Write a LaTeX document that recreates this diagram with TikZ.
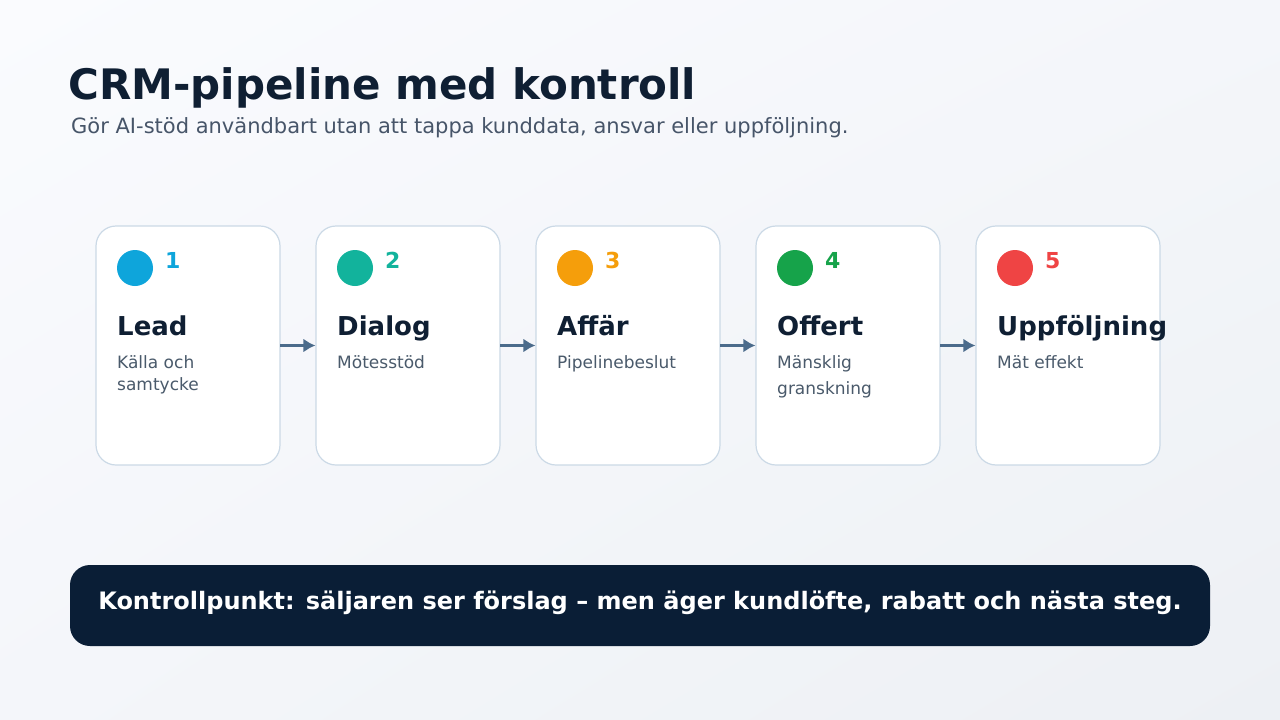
\documentclass[tikz,border=0pt]{standalone}
\usepackage{fontspec}
\setmainfont{DejaVu Sans}
\usetikzlibrary{positioning,arrows.meta,shadings}
\definecolor{ink}{HTML}{0F1F33}
\definecolor{muted}{HTML}{475569}
\definecolor{bodytxt}{HTML}{4A5A6B}
\definecolor{cardline}{HTML}{CBD9E6}
\definecolor{arrowc}{HTML}{4B6B8B}
\definecolor{barfill}{HTML}{0A1E36}
\definecolor{bgA}{HTML}{FAFBFE}
\definecolor{bgB}{HTML}{F4F6FA}
\definecolor{bgC}{HTML}{EDF0F4}
\definecolor{cA}{HTML}{0EA5DB}
\definecolor{cB}{HTML}{12B39C}
\definecolor{cC}{HTML}{F59E0B}
\definecolor{cD}{HTML}{16A34A}
\definecolor{cE}{HTML}{EF4444}
\tikzset{
  card/.style={draw=cardline, line width=1.2pt, fill=white, rounded corners=20pt,
    minimum width=184pt, minimum height=239pt},
  dot/.style={circle, inner sep=0pt, minimum size=36pt},
  num/.style={anchor=base west, inner sep=0pt, font=\fontsize{22}{26}\selectfont\bfseries},
  head/.style={anchor=base west, inner sep=0pt, text=ink, font=\fontsize{26}{30}\selectfont\bfseries},
  body/.style={anchor=base west, inner sep=0pt, text=bodytxt, align=left,
    font=\fontsize{17}{22}\selectfont},
  arr/.style={-{Latex[length=12pt,width=14pt]}, draw=arrowc, line width=3pt, shorten <=-0.5pt}
}
\begin{document}
\begin{tikzpicture}[x=1pt, y=-1pt]
% Bakgrund
\shade[upper left=bgA, upper right=bgB, lower left=bgB, lower right=bgC] (0,0) rectangle (1280,720);
\useasboundingbox (0,0) rectangle (1280,720);
% Rubrik
\node[anchor=base west, inner sep=0pt, text=ink, font=\fontsize{42}{48}\selectfont\bfseries]
  (title) at (68,99) {CRM-pipeline med kontroll};
\node[anchor=base west, inner sep=0pt, text=muted, font=\fontsize{21}{26}\selectfont]
  (sub) at (71,133) {Gör AI-stöd användbart utan att tappa kunddata, ansvar eller uppföljning.};
% Kort
\node[card] (c1) at (188,345.5) {};
\node[card] (c2) at (408,345.5) {};
\node[card] (c3) at (628,345.5) {};
\node[card] (c4) at (848,345.5) {};
\node[card] (c5) at (1068,345.5) {};
% Steg 1
\node[dot, fill=cA] (d1) at (135,268) {};
\node[num, text=cA] (n1) at (165,268) {1};
\node[head] (h1) at (117,335) {Lead};
\node[body] (b1) at (117,390) {Källa och\\samtycke};
% Steg 2
\node[dot, fill=cB] (d2) at (355,268) {};
\node[num, text=cB] (n2) at (385,268) {2};
\node[head] (h2) at (337,335) {Dialog};
\node[body] (b2) at (337,368) {Mötesstöd};
% Steg 3
\node[dot, fill=cC] (d3) at (575,268) {};
\node[num, text=cC] (n3) at (605,268) {3};
\node[head] (h3) at (557,335) {Affär};
\node[body] (b3) at (557,368) {Pipelinebeslut};
% Steg 4
\node[dot, fill=cD] (d4) at (795,268) {};
\node[num, text=cD] (n4) at (825,268) {4};
\node[head] (h4) at (777,335) {Offert};
\node[body] (b4) at (777,394) {Mänsklig\\[4pt]granskning};
% Steg 5
\node[dot, fill=cE] (d5) at (1015,268) {};
\node[num, text=cE] (n5) at (1045,268) {5};
\node[head] (h5) at (997,335) {Uppföljning};
\node[body] (b5) at (997,368) {Mät effekt};
% Pilar
\draw[arr] (c1.east) -- (c2.west);
\draw[arr] (c2.east) -- (c3.west);
\draw[arr] (c3.east) -- (c4.west);
\draw[arr] (c4.east) -- (c5.west);
% Kontrollpunkt
\node[fill=barfill, rounded corners=20pt, minimum width=1140pt, minimum height=81pt]
  (bar) at (640,605.5) {};
\node[anchor=base, inner sep=0pt, text=white, font=\fontsize{24}{28}\selectfont\bfseries]
  (note) at (bar.center |- 0,609)
  {Kontrollpunkt: säljaren ser förslag – men äger kundlöfte, rabatt och nästa steg.};
\end{tikzpicture}
\end{document}
